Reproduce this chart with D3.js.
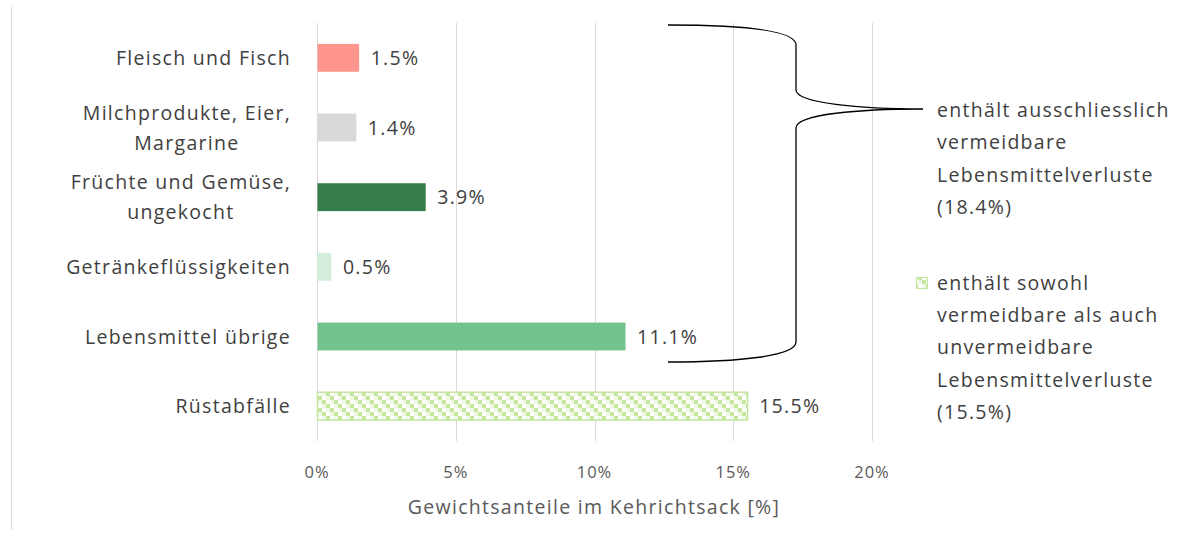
<!DOCTYPE html>
<html>
<head>
<meta charset="utf-8">
<script src="https://cdn.jsdelivr.net/npm/d3@7"></script>
<style>
  html, body { margin: 0; padding: 0; background: #fff; }
  svg { display: block; }
  text { font-family: "Open Sans", Lato, sans-serif; letter-spacing: 1.3px; }
</style>
</head>
<body>
<svg id="chart" width="1203" height="535"></svg>
<script>
// Waste shares by category (% of bag weight)
const categories = [
  ["Fleisch und Fisch"],
  ["Milchprodukte, Eier,", "Margarine"],
  ["Früchte und Gemüse,", "ungekocht"],
  ["Getränkeflüssigkeiten"],
  ["Lebensmittel übrige"],
  ["Rüstabfälle"]
];
const values = [1.5, 1.4, 3.9, 0.5, 11.1, 15.5];
const barColors = ["#ff968d", "#d9d9d9", "#357d4b", "#d3eedc", "#74c38f", "url(#checker)"];
const xTicks = [0, 5, 10, 15, 20];
const xTitle = "Gewichtsanteile im Kehrichtsack [%]";
const braceLabel = ["enthält ausschliesslich", "vermeidbare", "Lebensmittelverluste", "(18.4%)"];
const legendLabel = ["enthält sowohl", "vermeidbare als auch", "unvermeidbare", "Lebensmittelverluste", "(15.5%)"];

const svg = d3.select("#chart");
const textColor = "#404040";
const fs = 19.5;

// staircase checker pattern for the mixed-loss category (4px cells, 3x3 tile)
const defs = svg.append("defs");
const pat = defs.append("pattern")
  .attr("id", "checker").attr("patternUnits", "userSpaceOnUse")
  .attr("x", 318).attr("y", 396)
  .attr("width", 12).attr("height", 12);
pat.append("rect").attr("width", 12).attr("height", 12).attr("fill", "#ffffff");
d3.range(3).forEach(r => {
  pat.append("rect").attr("x", (r % 3) * 4).attr("y", r * 4)
    .attr("width", 4).attr("height", 4).attr("fill", "#c6e69c");
  pat.append("rect").attr("x", ((r + 2) % 3) * 4).attr("y", r * 4)
    .attr("width", 4).attr("height", 4).attr("fill", "#eff8e7");
});

// frame line on the left
svg.append("line").attr("x1", 11.5).attr("x2", 11.5).attr("y1", 7).attr("y2", 530)
  .attr("stroke", "#d9d9d9").attr("stroke-width", 1);

const x = d3.scaleLinear().domain([0, 20]).range([317, 872]);
const y = d3.scaleBand().domain(d3.range(categories.length))
  .range([23, 441]).paddingInner(0.6).paddingOuter(0.3);

// gridlines
svg.append("g").selectAll("line").data(xTicks).join("line")
  .attr("x1", d => Math.round(x(d)) + 0.5).attr("x2", d => Math.round(x(d)) + 0.5)
  .attr("y1", 23).attr("y2", 441)
  .attr("stroke", "#d9d9d9").attr("stroke-width", 1);

// tick labels
svg.append("g").selectAll("text").data(xTicks).join("text")
  .attr("x", d => x(d)).attr("y", 478)
  .attr("text-anchor", "middle").attr("font-size", 16.5).attr("fill", "#595959")
  .style("letter-spacing", "1px")
  .text(d => d + "%");

// axis title
svg.append("text").attr("x", 594).attr("y", 514).attr("text-anchor", "middle")
  .attr("font-size", fs).attr("fill", "#595959").text(xTitle);

// bars
svg.append("g").selectAll("rect").data(values).join("rect")
  .attr("x", x(0) + 0.5)
  .attr("y", (d, i) => y(i))
  .attr("width", d => x(d) - x(0))
  .attr("height", y.bandwidth())
  .attr("fill", (d, i) => barColors[i])
  .attr("stroke", (d, i) => i === 5 ? "#c5e6a3" : "none")
  .attr("stroke-width", 1.5);

// value labels
svg.append("g").selectAll("text").data(values).join("text")
  .attr("x", d => x(d) + 12)
  .attr("y", (d, i) => y(i) + y.bandwidth() / 2 + 7)
  .attr("font-size", fs).attr("fill", textColor)
  .text(d => d.toFixed(1) + "%");

// category labels: block right-aligned, lines centred within block
const lineH = 30;
categories.forEach((lines, i) => {
  const cy = y(i) + y.bandwidth() / 2;
  const g = svg.append("g");
  const texts = lines.map((s, k) => g.append("text")
    .attr("font-size", fs).attr("fill", textColor)
    .attr("text-anchor", "middle")
    .attr("y", cy + 7 + (k - (lines.length - 1) / 2) * lineH)
    .text(s));
  const w = d3.max(texts, t => t.node().getComputedTextLength());
  texts.forEach(t => t.attr("x", 291 - w / 2));
});

// curly brace grouping the avoidable-only categories
const brace = d3.path();
brace.moveTo(668, 25);
brace.bezierCurveTo(740, 25, 796, 30, 796, 45);
brace.lineTo(796, 90);
brace.bezierCurveTo(796, 103, 860, 109, 923, 109);
brace.bezierCurveTo(860, 109, 796, 114, 796, 128);
brace.lineTo(796, 342);
brace.bezierCurveTo(796, 356, 740, 362, 668, 362);
svg.append("path").attr("d", brace.toString())
  .attr("fill", "none").attr("stroke", "#000").attr("stroke-width", 1.3);

svg.append("g").selectAll("text").data(braceLabel).join("text")
  .attr("x", 937).attr("y", (d, i) => 117 + i * 32.3)
  .attr("font-size", fs).attr("fill", textColor).text(d => d);

// legend entry for the patterned bar
svg.append("rect").attr("x", 916.5).attr("y", 277.5).attr("width", 11).attr("height", 11)
  .attr("fill", "url(#checker)").attr("stroke", "#c5e6a3").attr("stroke-width", 1);
svg.append("g").selectAll("text").data(legendLabel).join("text")
  .attr("x", 937).attr("y", (d, i) => 290 + i * 32.2)
  .attr("font-size", fs).attr("fill", textColor).text(d => d);
</script>
</body>
</html>
